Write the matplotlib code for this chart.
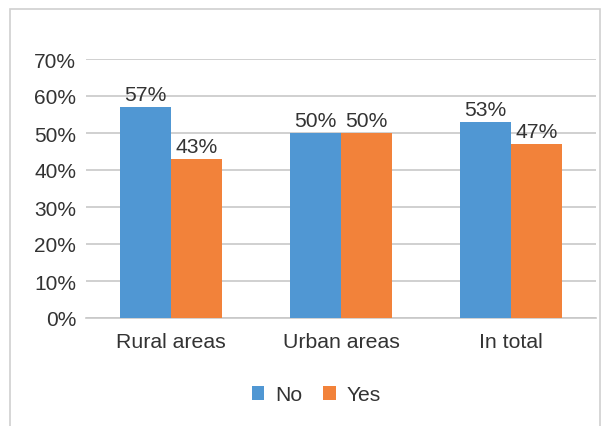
import numpy as np
import matplotlib.pyplot as plt
from matplotlib.patches import Rectangle

categories = ["Rural areas", "Urban areas", "In total"]
no_values = [0.57, 0.50, 0.53]
yes_values = [0.43, 0.50, 0.47]
yticks = [0.0, 0.1, 0.2, 0.3, 0.4, 0.5, 0.6, 0.7]

blue = "#5097D3"
orange = "#F2823A"
text_color = "#333333"

plt.rcParams["font.family"] = ["Liberation Sans", "DejaVu Sans"]

fig = plt.figure(figsize=(6.03, 4.27), dpi=100)
ax = fig.add_axes([86 / 603, 1 - 319 / 427, 510 / 603, 259 / 427])

# outer frame of the chart
fig.patches.append(Rectangle((10 / 603, -0.1), 590 / 603, 1.1 - 10 / 427,
                             transform=fig.transFigure, fill=False,
                             edgecolor="#D0D0D0", linewidth=1.2))

x = np.arange(len(categories))
w = 0.3
b1 = ax.bar(x - w / 2, no_values, w, color=blue, label="No", zorder=3)
b2 = ax.bar(x + w / 2, yes_values, w, color=orange, label="Yes", zorder=3)

for bars in (b1, b2):
    for bar in bars:
        h = bar.get_height()
        ax.annotate(f"{h:.0%}", (bar.get_x() + bar.get_width() / 2, h),
                    xytext=(0, 2), textcoords="offset points",
                    ha="center", va="bottom", fontsize=15.2, color=text_color)

ax.set_xlim(-0.5, 2.5)
ax.set_ylim(0, 0.7)
ax.set_yticks(yticks)
ax.set_yticklabels([f"{t:.0%}" for t in yticks])
ax.set_xticks(x)
ax.set_xticklabels(categories)
ax.tick_params(axis="both", length=0, labelsize=15, colors=text_color)
ax.tick_params(axis="x", labelsize=15.3, pad=10)
ax.tick_params(axis="y", pad=7)
ax.yaxis.grid(True, color="#C8C8C8", linewidth=1.2, zorder=0)
ax.set_axisbelow(True)
for side in ("left", "right", "top"):
    ax.spines[side].set_visible(False)
ax.spines["bottom"].set_color("#C8C8C8")
ax.spines["bottom"].set_linewidth(1.2)

leg = fig.legend(handles=[b1, b2], labels=["No", "Yes"], loc="center",
                 bbox_to_anchor=(316 / 603, 1 - 396 / 427), ncol=2,
                 frameon=False, fontsize=15.2, handlelength=0.6,
                 handleheight=0.6, handletextpad=0.5, columnspacing=1.0)
for t in leg.get_texts():
    t.set_color(text_color)

fig.savefig("out.png", dpi=100)
